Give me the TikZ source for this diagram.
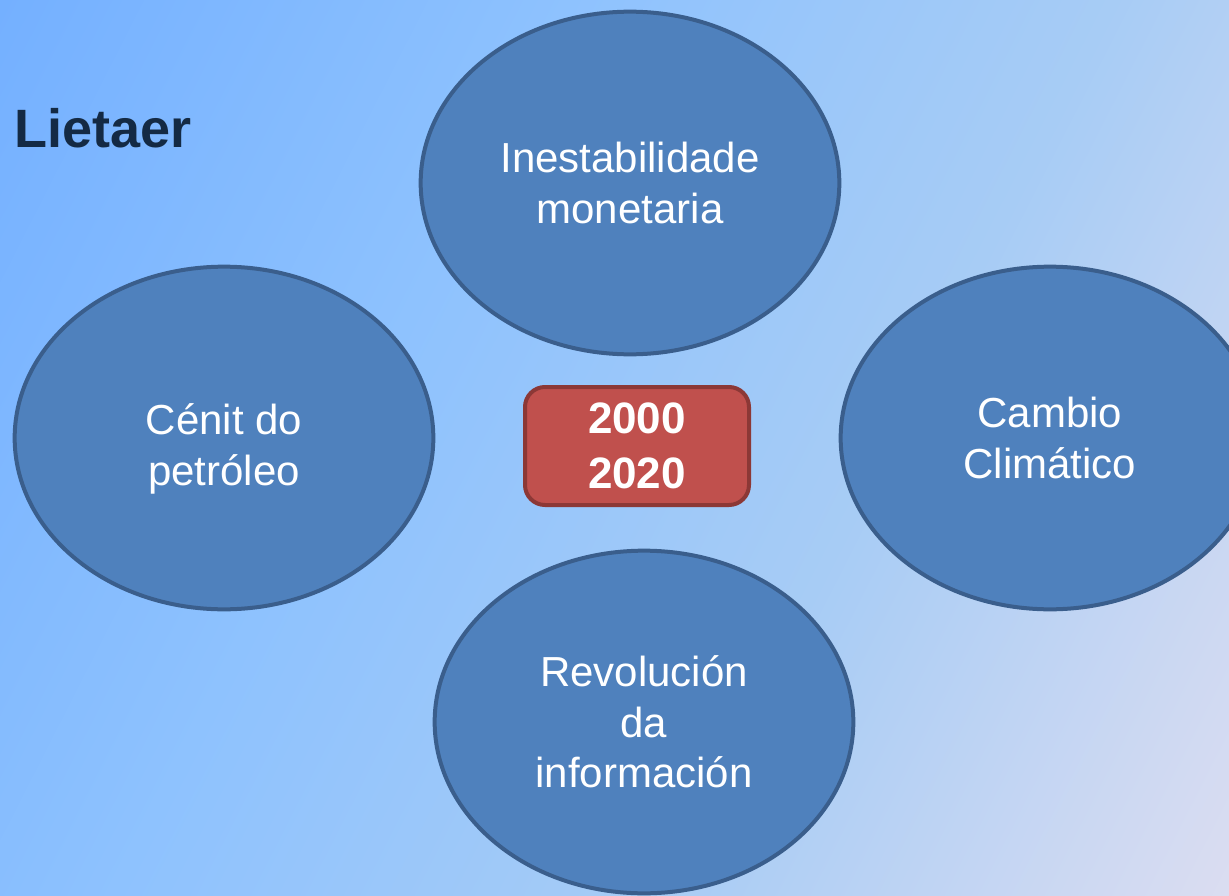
\documentclass[tikz,border=0pt]{standalone}
\usepackage{fontspec}
\setmainfont{Liberation Sans}
\usetikzlibrary{shapes.geometric}
\definecolor{bgA}{RGB}{116,176,255}
\definecolor{bgB}{RGB}{142,194,254}
\definecolor{bgC}{RGB}{167,204,245}
\definecolor{bgD}{RGB}{219,221,241}
\definecolor{ideafill}{RGB}{79,129,189}
\definecolor{idealine}{RGB}{58,94,140}
\definecolor{yearfill}{RGB}{192,80,77}
\definecolor{yearline}{RGB}{140,56,54}
\definecolor{titlecol}{RGB}{20,42,68}
\pgfdeclarehorizontalshading{bgfade}{100bp}{color(0bp)=(bgA); color(16.4bp)=(bgA); color(39.1bp)=(bgB); color(60.9bp)=(bgC); color(83.6bp)=(bgD); color(100bp)=(bgD)}

\begin{document}
\begin{tikzpicture}[x=0.75pt,y=-0.75pt,
  idea/.style={ellipse,draw=idealine,line width=3pt,fill=ideafill,
    minimum width=314pt,minimum height=257pt,inner sep=0pt,
    text=white,align=center,font=\fontsize{31.5}{38}\selectfont},
  years/.style={rectangle,rounded corners=15pt,draw=yearline,line width=3pt,
    fill=yearfill,minimum width=168pt,minimum height=88.5pt,inner sep=0pt,
    text=white,align=center,font=\bfseries\fontsize{33}{41}\selectfont}]
\useasboundingbox (0,0) rectangle (1229,896);
\clip (0,0) rectangle (1229,896);
\shade[shading=bgfade,shading angle=-27] (0,0) rectangle (1229,896);
% title
\node (Lietaer) at (14,147)[anchor=base west,inner sep=0pt,text=titlecol,
  font=\bfseries\fontsize{40.5}{48}\selectfont] {Lietaer};
% four ellipses round the years
\node (Ines) at (630,183)[idea] {Inestabilidade\\monetaria};
\node (Cenit) at (224,438)[idea] {\rule{0pt}{40pt}Cénit do\\petróleo};
\node (Cambio) at (1050,438)[idea] {Cambio\\Climático};
\node (Revol) at (644,722)[idea] {Revolución\\da\\información};
\node (Anos) at (637,446)[years] {2000\\2020};
\end{tikzpicture}
\end{document}
